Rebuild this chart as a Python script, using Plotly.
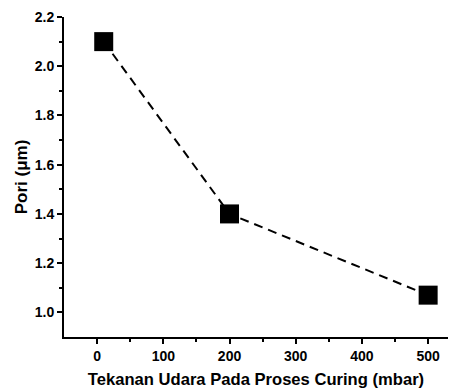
import plotly.graph_objects as go

pressure = [10, 200, 500]
pori = [2.1, 1.4, 1.07]

x_title = "Tekanan Udara Pada Proses Curing (mbar)"
y_title = "Pori (μm)"

font_family = "Arial, Liberation Sans, sans-serif"

fig = go.Figure()
fig.add_trace(go.Scatter(
    x=pressure, y=pori, mode="lines+markers",
    line=dict(color="black", width=2, dash="9px,6px"),
    marker=dict(symbol="square", size=19, color="black"),
    showlegend=False,
))

fig.update_layout(
    width=453, height=389,
    margin=dict(l=64, r=5, t=17, b=52),
    paper_bgcolor="white", plot_bgcolor="white",
    font=dict(family=font_family, color="black"),
)
fig.update_xaxes(
    range=[-50, 530], tickvals=[0, 100, 200, 300, 400, 500],
    ticks="outside", ticklen=5, tickwidth=1.5, tickcolor="black",
    minor=dict(tickvals=[50, 150, 250, 350, 450], ticks="outside", ticklen=3, tickwidth=1.5, tickcolor="black"),
    showline=True, linecolor="black", linewidth=2, showgrid=False, zeroline=False,
    tickfont=dict(size=14, family=font_family, weight="bold"),
    automargin=False,
    title=dict(text="<b>" + x_title + "</b>", font=dict(size=16.6), standoff=12),
)
fig.update_yaxes(
    range=[0.9, 2.2], tickvals=[1.0, 1.2, 1.4, 1.6, 1.8, 2.0, 2.2],
    ticktext=["1.0", "1.2", "1.4", "1.6", "1.8", "2.0", "2.2"],
    ticks="outside", ticklen=5, tickwidth=1.5, tickcolor="black",
    minor=dict(tickvals=[1.1, 1.3, 1.5, 1.7, 1.9, 2.1], ticks="outside", ticklen=3, tickwidth=1.5, tickcolor="black"),
    showline=True, linecolor="black", linewidth=2, showgrid=False, zeroline=False,
    tickfont=dict(size=14, family=font_family, weight="bold"),
    automargin=False,
    title=dict(text="<b>" + y_title + "</b>", font=dict(size=17), standoff=3),
)
fig.write_html(
    "out.html",
    config={"displayModeBar": False},
    post_script="document.body.style.margin='0';document.body.style.padding='0';",
)
